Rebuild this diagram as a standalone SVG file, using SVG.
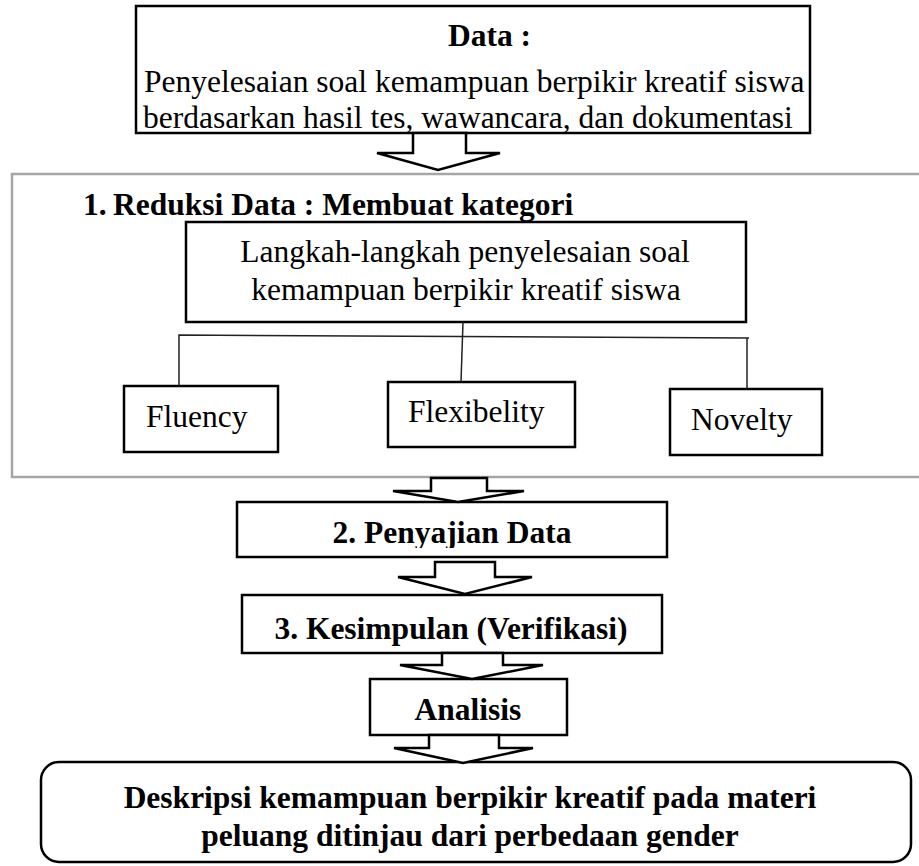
<svg xmlns="http://www.w3.org/2000/svg" width="919" height="866" viewBox="0 0 919 866">
<style>
text{font-family:"Liberation Serif","Times New Roman",serif;font-size:31.5px;fill:#000}
.b{font-weight:bold}
.box{fill:#fff;stroke:#000;stroke-width:2.5}
.arr{fill:#fff;stroke:#000;stroke-width:2.5;stroke-linejoin:miter}
.con{fill:none;stroke:#222;stroke-width:1.5}
</style>
<defs>
<clipPath id="clip2"><rect x="237" y="502" width="430" height="46"/></clipPath>
</defs>
<rect width="919" height="866" fill="#fff"/>

<g id="data">
<rect class="box" x="136" y="6" width="674" height="127" stroke-width="2"/>
<text class="b" x="448" y="46">Data :</text>
<text x="144" y="92">Penyelesaian soal kemampuan berpikir kreatif siswa</text>
<text x="143" y="128">berdasarkan hasil tes, wawancara, dan dokumentasi</text>
</g>

<g id="reduksi">
<rect x="12" y="174" width="915" height="303" fill="none" stroke="#a6a6a6" stroke-width="2.5"/>
<text class="b" x="83" y="215">1.</text>
<text class="b" x="113" y="215">Reduksi Data : Membuat kategori</text>
</g>

<g id="langkah">
<rect class="box" x="186" y="222" width="560" height="100"/>
<text x="465" y="262" text-anchor="middle">Langkah-langkah penyelesaian soal</text>
<text x="466" y="300" text-anchor="middle">kemampuan berpikir kreatif siswa</text>
</g>

<g id="fluency">
<rect class="box" x="124" y="386" width="154" height="66"/>
<text x="146" y="427">Fluency</text>
</g>

<g id="flexibelity">
<rect class="box" x="388" y="382" width="187" height="65"/>
<text x="408" y="422">Flexibelity</text>
</g>

<g id="novelty">
<rect class="box" x="670" y="389" width="152" height="66"/>
<text x="691" y="430">Novelty</text>
</g>

<g id="penyajian">
<rect class="box" x="237" y="502" width="430" height="55"/>
<text class="b" x="452" y="543" text-anchor="middle" clip-path="url(#clip2)">2. Penyajian Data</text>
</g>

<g id="kesimpulan">
<rect class="box" x="242" y="595" width="420" height="58"/>
<text class="b" x="451" y="639" text-anchor="middle">3. Kesimpulan (Verifikasi)</text>
</g>

<g id="analisis">
<rect class="box" x="370" y="679" width="197" height="56"/>
<text class="b" x="468" y="720" text-anchor="middle">Analisis</text>
</g>

<g id="deskripsi">
<rect class="box" x="41" y="762" width="870" height="100" rx="18" ry="18"/>
<text class="b" x="470" y="808" text-anchor="middle">Deskripsi kemampuan berpikir kreatif pada materi</text>
<text class="b" x="470" y="846" text-anchor="middle">peluang ditinjau dari perbedaan gender</text>
</g>

<g id="connectors">
<polyline class="con" points="179,386 179,335 749,338"/>
<line class="con" x1="463" y1="322" x2="461" y2="382"/>
<line class="con" x1="747" y1="338" x2="747" y2="389"/>
<polygon class="arr" points="413,133 466,133 466,153 500,153 438,170 377,153 413,153"/>
<polygon class="arr" points="431,478 487,478 487,491 524,491 458,502 393,491 431,491"/>
<polygon class="arr" points="435,562 495,562 495,577 532,577 465,594 398,577 435,577"/>
<polygon class="arr" points="442,653 503,653 503,665 543,665 472,679 400,665 442,665"/>
<polygon class="arr" points="429,735 499,735 499,748 533,748 463,763 394,748 429,748"/>
</g>
</svg>
